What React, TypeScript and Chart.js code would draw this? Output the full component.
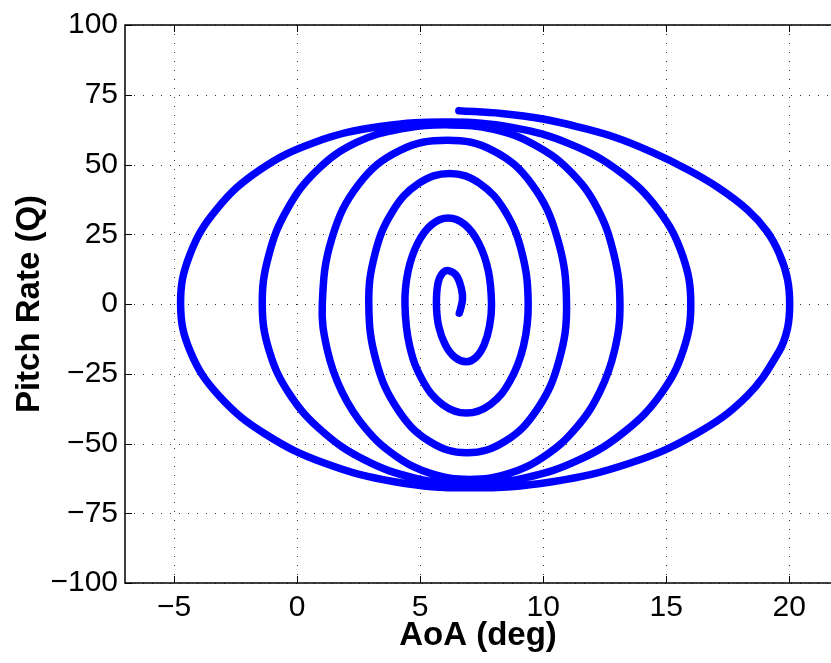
import React, { useEffect, useRef } from 'react';
import { Chart, registerables } from 'chart.js';

Chart.register(...registerables);

// Trajectory (AoA in deg, pitch rate Q), in drawing order.
const aoaDeg = [
  6.57, 8.3, 10.0, 11.5, 13.0, 14.4, 15.8, 17.1, 18.3, 19.1, 19.6, 19.93, 20.02,
  19.93, 19.58, 18.28, 16.2, 13.51, 10.37, 7.0,
  3.96, 1.13, -1.3, -3.17, -4.34, -4.74,
  -4.37, -3.27, -1.53, 0.73, 3.37, 6.2,
  8.74, 11.1, 13.13, 14.69, 15.67, 16.0,
  15.69, 14.78, 13.33, 11.45, 9.26, 6.9,
  4.75, 2.74, 1.02, -0.31, -1.14, -1.42,
  -1.16, -0.4, 0.81, 2.39, 4.23, 6.2,
  7.99, 9.66, 11.09, 12.19, 12.88, 13.12,
  12.91, 12.3, 11.33, 10.06, 8.59, 7.0,
  5.45, 4.01, 2.77, 1.82, 1.22, 1.02,
  1.41, 2.51, 4.16, 6.1,
  7.96, 9.53, 10.58, 10.95,
  10.64, 9.76, 8.45, 6.9,
  5.37, 4.08, 3.21, 2.91,
  3.16, 3.87, 4.94, 6.2,
  7.42, 8.46, 9.15, 9.39,
  9.2, 8.65, 7.84, 6.88,
  5.92, 5.11, 4.57, 4.38,
  4.51, 4.9, 5.47, 6.14,
  6.81, 7.38, 7.77, 7.9,
  7.82, 7.6, 7.27, 6.88,
  6.41, 6.02, 5.75, 5.66,
  5.73, 5.93, 6.18,
  6.48, 6.68, 6.72, 6.64, 6.59,
];

const pitchRate = [
  69.3, 68.3, 66.3, 63.3, 59.5, 54.5, 48.5, 41.8, 33.8, 26.0, 18.0, 9.0, 0,
  -8.8, -17.1, -33.0, -46.6, -57.1, -63.7, -65.9,
  -63.7, -57.1, -46.6, -33.0, -17.1, 0,
  17.5, 34.0, 48.0, 58.0, 63.6, 65.2,
  63.3, 57.3, 47.3, 33.6, 17.3, 0,
  -16.7, -32.3, -45.6, -55.9, -62.3, -64.5,
  -62.3, -55.9, -45.6, -32.3, -16.7, 0,
  17.3, 34.0, 48.0, 57.8, 62.8, 64.2,
  62.6, 57.0, 47.6, 34.5, 17.6, 0,
  -16.3, -31.5, -44.5, -54.5, -60.8, -62.9,
  -60.8, -54.5, -44.5, -31.5, -16.3, 0,
  23.5, 43.0, 55.0, 58.7,
  55.0, 43.0, 23.5, 0,
  -20.4, -37.7, -49.2, -53.3,
  -49.2, -37.7, -20.4, 0,
  17.9, 33.1, 43.2, 46.8,
  43.2, 33.1, 17.9, 0,
  -15.0, -27.6, -36.1, -39.1,
  -36.1, -27.6, -15.0, 0,
  11.8, 21.8, 28.5, 30.8,
  28.5, 21.8, 11.8, 0,
  -7.9, -14.6, -19.1, -20.7,
  -19.1, -14.6, -7.9, 0,
  7.7, 11.3, 11.9,
  10.1, 5.3, 1.8, -1.8, -3.3,
];

const xTicks = [-5, 0, 5, 10, 15, 20];
const yTicks = [-100, -75, -50, -25, 0, 25, 50, 75, 100];
const xRange = [-7, 21.7];
const yRange = [-100, 100];
const xLabel = 'AoA (deg)';
const yLabel = 'Pitch Rate (Q)';

const FONT = "'Liberation Sans', Arial, Helvetica, sans-serif";
const fmt = (v: number) => String(v).replace('-', '\u2212');

const framePlugin = {
  id: 'matlabFrame',
  beforeDatasetsDraw(chart: any) {
    const { ctx, chartArea: a, scales } = chart;
    const x = scales.x;
    const y = scales.y;
    ctx.save();
    ctx.lineWidth = 1;
    ctx.strokeStyle = 'rgba(0,0,0,0.8)';
    ctx.setLineDash([1, 8]);
    for (const v of xTicks) {
      const px = Math.round(x.getPixelForValue(v)) + 0.5;
      ctx.beginPath();
      ctx.moveTo(px, a.top);
      ctx.lineTo(px, a.bottom);
      ctx.stroke();
    }
    for (const v of yTicks) {
      const py = Math.round(y.getPixelForValue(v)) + 0.5;
      ctx.beginPath();
      ctx.moveTo(a.left, py);
      ctx.lineTo(a.right, py);
      ctx.stroke();
    }
    ctx.setLineDash([]);
    ctx.strokeStyle = '#000';
    ctx.lineWidth = 1;
    const tl = 7;
    for (const v of xTicks) {
      const px = Math.round(x.getPixelForValue(v)) + 0.5;
      ctx.beginPath();
      ctx.moveTo(px, a.bottom);
      ctx.lineTo(px, a.bottom - tl);
      ctx.moveTo(px, a.top);
      ctx.lineTo(px, a.top + tl);
      ctx.stroke();
    }
    for (const v of yTicks) {
      const py = Math.round(y.getPixelForValue(v)) + 0.5;
      ctx.beginPath();
      ctx.moveTo(a.left, py);
      ctx.lineTo(a.left + tl, py);
      ctx.stroke();
    }
    ctx.lineWidth = 1.5;
    ctx.beginPath();
    ctx.moveTo(a.right + 2, a.top);
    ctx.lineTo(a.left, a.top);
    ctx.lineTo(a.left, a.bottom);
    ctx.lineTo(a.right + 2, a.bottom);
    ctx.stroke();
    ctx.restore();
  },
};

export default function App() {
  const ref = useRef<HTMLCanvasElement | null>(null);

  useEffect(() => {
    if (!ref.current) return;
    const points = aoaDeg.map((v, i) => ({ x: v, y: pitchRate[i] }));
    const chart = new Chart(ref.current, {
      type: 'scatter',
      data: {
        datasets: [
          {
            data: points,
            showLine: true,
            borderColor: '#0000ff',
            backgroundColor: '#0000ff',
            borderWidth: 7.5,
            borderCapStyle: 'round',
            borderJoinStyle: 'round',
            pointRadius: 0,
            tension: 0.4,
            fill: false,
          } as any,
        ],
      },
      options: {
        responsive: false,
        animation: false,
        layout: { padding: { top: 21, right: 0, left: 0, bottom: 0 } },
        plugins: { legend: { display: false }, tooltip: { enabled: false } },
        scales: {
          x: {
            type: 'linear',
            position: 'bottom',
            min: xRange[0],
            max: xRange[1],
            afterBuildTicks: (s: any) => {
              s.ticks = xTicks.map((v) => ({ value: v }));
            },
            afterFit: (s: any) => {
              s.height = 80;
            },
            grid: { display: false, drawTicks: false },
            border: { display: false },
            ticks: {
              color: '#000',
              font: { family: FONT, size: 30 },
              padding: 7,
              maxRotation: 0,
              autoSkip: false,
              callback: (v: any) => fmt(Number(v)),
            },
            title: {
              display: true,
              text: xLabel,
              color: '#000',
              font: { family: FONT, size: 33, weight: 'bold' },
              padding: { top: 0, bottom: 7 },
            },
          },
          y: {
            type: 'linear',
            position: 'left',
            min: yRange[0],
            max: yRange[1],
            afterBuildTicks: (s: any) => {
              s.ticks = yTicks.map((v) => ({ value: v }));
            },
            afterFit: (s: any) => {
              s.width = 125;
            },
            grid: { display: false, drawTicks: false },
            border: { display: false },
            ticks: {
              color: '#000',
              font: { family: FONT, size: 30 },
              padding: 7,
              autoSkip: false,
              callback: (v: any) => fmt(Number(v)),
            },
            title: {
              display: true,
              text: yLabel,
              color: '#000',
              font: { family: FONT, size: 33, weight: 'bold' },
              padding: { top: 10, bottom: 0 },
            },
          },
        },
      },
      plugins: [framePlugin],
    });
    return () => chart.destroy();
  }, []);

  return (
    <div style={{ position: 'fixed', left: 0, top: 0, width: 831, height: 663, background: '#fff' }}>
      <canvas ref={ref} width={831} height={663} style={{ display: 'block', width: 831, height: 663 }} />
    </div>
  );
}
